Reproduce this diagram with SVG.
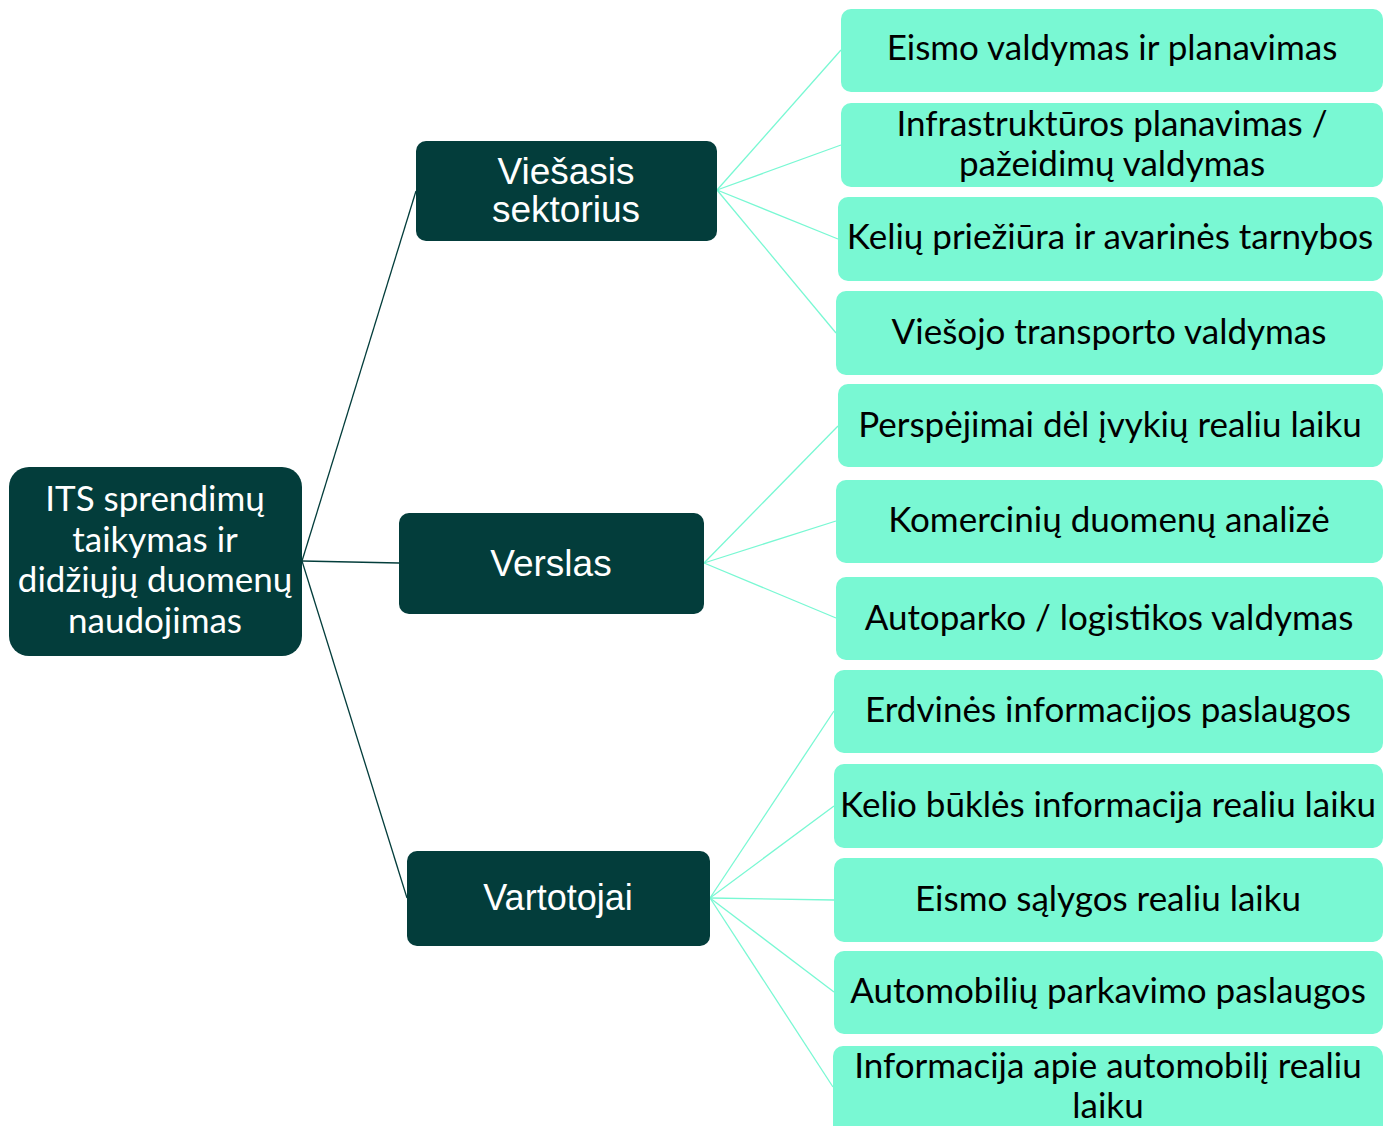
<svg xmlns="http://www.w3.org/2000/svg" width="1391" height="1126" viewBox="0 0 1391 1126">
<style>
.dark{fill:#033d3b}
.leaf{fill:#79f8d3}
.tw{fill:#ffffff;font-family:"Liberation Sans",Arial,sans-serif;font-size:37px;text-anchor:middle}
.tr{fill:#ffffff;font-family:Lato,"Open Sans",sans-serif;font-size:35px;text-anchor:middle}
.tl{fill:#000000;font-family:Lato,"Open Sans",sans-serif;font-size:35px;text-anchor:middle}
.c1{stroke:#033d3b;stroke-width:1.3;fill:none}
.c2{stroke:#79f8d3;stroke-width:1.3;fill:none}
</style>
<rect width="1391" height="1126" fill="#ffffff"/>
<g id="connectors">
<line class="c1" x1="302" y1="561" x2="416" y2="191"/>
<line class="c1" x1="302" y1="561" x2="399" y2="563"/>
<line class="c1" x1="302" y1="561" x2="407" y2="898"/>
<line class="c2" x1="717" y1="190" x2="841" y2="50"/>
<line class="c2" x1="717" y1="190" x2="841" y2="145"/>
<line class="c2" x1="717" y1="190" x2="838" y2="239"/>
<line class="c2" x1="717" y1="190" x2="836" y2="333"/>
<line class="c2" x1="704" y1="563" x2="838" y2="426"/>
<line class="c2" x1="704" y1="563" x2="836" y2="521"/>
<line class="c2" x1="704" y1="563" x2="836" y2="618"/>
<line class="c2" x1="710" y1="898" x2="834" y2="711"/>
<line class="c2" x1="710" y1="898" x2="834" y2="806"/>
<line class="c2" x1="710" y1="898" x2="834" y2="900"/>
<line class="c2" x1="710" y1="898" x2="834" y2="992"/>
<line class="c2" x1="710" y1="898" x2="833" y2="1087"/>
</g>
<g id="root">
<rect class="dark" x="9" y="467" width="293" height="189" rx="20"/>
<text class="tr" x="155" y="511">ITS sprendimų</text>
<text class="tr" x="155" y="552">taikymas ir</text>
<text class="tr" x="155" y="592">didžiųjų duomenų</text>
<text class="tr" x="155" y="633">naudojimas</text>
</g>
<g id="viesasis">
<rect class="dark" x="416" y="141" width="301" height="100" rx="10"/>
<text class="tw" x="566" y="184">Viešasis</text>
<text class="tw" x="566" y="222">sektorius</text>
</g>
<g id="verslas">
<rect class="dark" x="399" y="513" width="305" height="101" rx="10"/>
<text class="tw" x="551" y="576">Verslas</text>
</g>
<g id="vartotojai">
<rect class="dark" x="407" y="851" width="303" height="95" rx="10"/>
<text class="tw" x="558" y="910" style="font-size:36px">Vartotojai</text>
</g>
<g id="leaf1">
<rect class="leaf" x="841" y="9" width="542" height="83" rx="10"/>
<text class="tl" x="1112" y="60">Eismo valdymas ir planavimas</text>
</g>
<g id="leaf2">
<rect class="leaf" x="841" y="103" width="542" height="84" rx="10"/>
<text class="tl" x="1112" y="136">Infrastruktūros planavimas /</text>
<text class="tl" x="1112" y="176">pažeidimų valdymas</text>
</g>
<g id="leaf3">
<rect class="leaf" x="838" y="197" width="545" height="84" rx="10"/>
<text class="tl" x="1110" y="249">Kelių priežiūra ir avarinės tarnybos</text>
</g>
<g id="leaf4">
<rect class="leaf" x="836" y="291" width="547" height="84" rx="10"/>
<text class="tl" x="1109" y="344">Viešojo transporto valdymas</text>
</g>
<g id="leaf5">
<rect class="leaf" x="838" y="384" width="545" height="83" rx="10"/>
<text class="tl" x="1110" y="437">Perspėjimai dėl įvykių realiu laiku</text>
</g>
<g id="leaf6">
<rect class="leaf" x="836" y="480" width="547" height="83" rx="10"/>
<text class="tl" x="1109" y="532">Komercinių duomenų analizė</text>
</g>
<g id="leaf7">
<rect class="leaf" x="836" y="577" width="547" height="83" rx="10"/>
<text class="tl" x="1109" y="630">Autoparko / logistikos valdymas</text>
</g>
<g id="leaf8">
<rect class="leaf" x="834" y="670" width="549" height="83" rx="10"/>
<text class="tl" x="1108" y="722">Erdvinės informacijos paslaugos</text>
</g>
<g id="leaf9">
<rect class="leaf" x="834" y="764" width="549" height="84" rx="10"/>
<text class="tl" x="1108" y="817">Kelio būklės informacija realiu laiku</text>
</g>
<g id="leaf10">
<rect class="leaf" x="834" y="858" width="549" height="84" rx="10"/>
<text class="tl" x="1108" y="911">Eismo sąlygos realiu laiku</text>
</g>
<g id="leaf11">
<rect class="leaf" x="834" y="951" width="549" height="83" rx="10"/>
<text class="tl" x="1108" y="1003">Automobilių parkavimo paslaugos</text>
</g>
<g id="leaf12">
<rect class="leaf" x="833" y="1046" width="550" height="90" rx="10"/>
<text class="tl" x="1108" y="1078">Informacija apie automobilį realiu</text>
<text class="tl" x="1108" y="1118">laiku</text>
</g>
</svg>
